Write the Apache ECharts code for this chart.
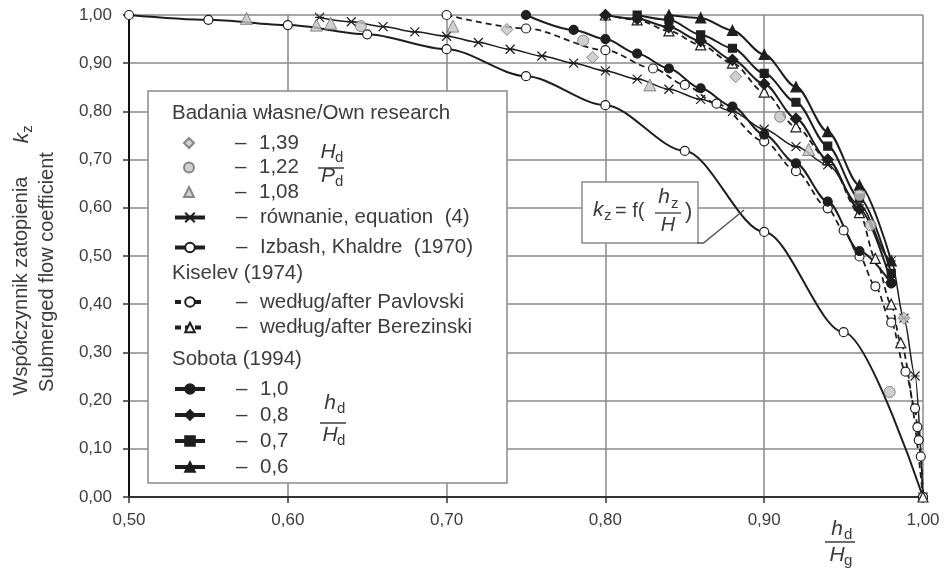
<!DOCTYPE html>
<html>
<head>
<meta charset="utf-8">
<script src="https://cdn.jsdelivr.net/npm/echarts@6/dist/echarts.min.js"></script>
<style>
  html, body { margin: 0; background: #fff; }
  #chart { width: 944px; height: 572px; }
</style>
</head>
<body>
<div id="chart"></div>
<script>
// ---- data (x = hd/Hg, y = kz) ----
const xIzbash = [0.50, 0.55, 0.60, 0.65, 0.70, 0.75, 0.80, 0.85, 0.90, 0.95, 1.00]
const kIzbash = [1.00, 0.99, 0.979, 0.96, 0.929, 0.873, 0.813, 0.718, 0.55, 0.342, 0.00]

const xEquation = [0.62, 0.64, 0.66, 0.68, 0.70, 0.72, 0.74, 0.76, 0.78, 0.80, 0.82, 0.84, 0.86, 0.88, 0.90, 0.92, 0.94, 0.96, 0.98, 0.988, 0.995, 1.00]
const kEquation = [0.995, 0.986, 0.976, 0.965, 0.956, 0.943, 0.929, 0.915, 0.90, 0.884, 0.867, 0.846, 0.825, 0.80, 0.763, 0.727, 0.689, 0.606, 0.49, 0.371, 0.251, 0.00]

const xPavlovski = [0.70, 0.75, 0.80, 0.83, 0.85, 0.87, 0.90, 0.92, 0.94, 0.95, 0.96, 0.97, 0.98, 0.989, 0.995, 0.9965, 0.9973, 0.9986, 1.00]
const kPavlovski = [1.00, 0.972, 0.927, 0.889, 0.855, 0.816, 0.738, 0.676, 0.599, 0.553, 0.499, 0.437, 0.362, 0.26, 0.184, 0.145, 0.118, 0.084, 0.00]

const xBerezinski = [0.80, 0.82, 0.84, 0.86, 0.88, 0.90, 0.92, 0.94, 0.96, 0.97, 0.98, 0.986, 1.00]
const kBerezinski = [1.00, 0.99, 0.967, 0.938, 0.90, 0.84, 0.768, 0.70, 0.59, 0.495, 0.40, 0.32, 0.00]

const xSobota10 = [0.75, 0.78, 0.80, 0.82, 0.84, 0.86, 0.88, 0.90, 0.92, 0.94, 0.96, 0.98]
const kSobota10 = [1.00, 0.969, 0.95, 0.92, 0.889, 0.848, 0.81, 0.752, 0.692, 0.613, 0.51, 0.443]
const xSobota08 = [0.80, 0.82, 0.84, 0.86, 0.88, 0.90, 0.92, 0.94, 0.96, 0.98]
const kSobota08 = [1.00, 0.992, 0.975, 0.946, 0.907, 0.857, 0.785, 0.70, 0.597, 0.445]
const xSobota07 = [0.82, 0.84, 0.86, 0.88, 0.90, 0.92, 0.94, 0.96, 0.98]
const kSobota07 = [1.00, 0.99, 0.959, 0.931, 0.879, 0.819, 0.728, 0.62, 0.464]
const xSobota06 = [0.84, 0.86, 0.88, 0.90, 0.92, 0.94, 0.96, 0.98]
const kSobota06 = [1.00, 0.994, 0.968, 0.918, 0.851, 0.758, 0.647, 0.49]

// own research, Hd/Pd
const xOwn139 = [0.738, 0.792, 0.882, 0.988]
const kOwn139 = [0.970, 0.912, 0.872, 0.371]
const xOwn122 = [0.646, 0.786, 0.91, 0.96, 0.967, 0.979]
const kOwn122 = [0.977, 0.947, 0.789, 0.626, 0.564, 0.218]
const xOwn108 = [0.574, 0.618, 0.627, 0.704, 0.828, 0.928]
const kOwn108 = [0.993, 0.979, 0.983, 0.977, 0.855, 0.721]

const xTicks = [0.5, 0.6, 0.7, 0.8, 0.9, 1.0]
const yTicks = [0, 0.1, 0.2, 0.3, 0.4, 0.5, 0.6, 0.7, 0.8, 0.9, 1.0]

const ink = '#1e1e1e'
const textColor = '#3c3c3c'
const fontFamily = '"Liberation Sans", Arial, sans-serif'
const legendFont = 20.5
const comma = v => v.toFixed(2).replace('.', ',')
const pairs = (xs, ys) => xs.map((x, i) => [x, ys[i]])

const asterisk = 'path://M0,0L10,10M10,0L0,10M0,5L10,5'

function curve(name, xs, ys, symbol, size, filled, dashed, width) {
  return {
    name,
    type: 'line',
    data: pairs(xs, ys),
    smooth: 0.3,
    smoothMonotone: 'x',
    symbol,
    symbolSize: size,
    showAllSymbol: true,
    lineStyle: { color: ink, width: width || 1.8, type: dashed ? [6, 4] : 'solid' },
    itemStyle: { color: filled ? ink : '#fff', borderColor: ink, borderWidth: 1.2 },
    z: 3
  }
}

function own(name, xs, ys, symbol, size) {
  return {
    name,
    type: 'scatter',
    data: pairs(xs, ys),
    symbol,
    symbolSize: size,
    itemStyle: { color: '#c4c4c4', borderColor: '#6e6e6e', borderWidth: 1 },
    z: 4
  }
}

const series = [
  own('1,39', xOwn139, kOwn139, 'diamond', 12),
  own('1,22', xOwn122, kOwn122, 'circle', 11),
  own('1,08', xOwn108, kOwn108, 'triangle', 12),
  curve('równanie, equation  (4)', xEquation, kEquation, asterisk, [9, 9], true, false, 1.5),
  curve('Izbash, Khaldre  (1970)', xIzbash, kIzbash, 'circle', 9, false, false, 2),
  curve('według/after Pavlovski', xPavlovski, kPavlovski, 'circle', 9, false, true, 1.8),
  curve('według/after Berezinski', xBerezinski, kBerezinski, 'triangle', 10, false, true, 1.8),
  curve('1,0', xSobota10, kSobota10, 'circle', 9, true, false, 2),
  curve('0,8', xSobota08, kSobota08, 'diamond', 11, true, false, 2),
  curve('0,7', xSobota07, kSobota07, 'rect', 8, true, false, 2),
  curve('0,6', xSobota06, kSobota06, 'triangle', 10, true, false, 2)
]

// legend rows (series name, row centre y, is it a bare symbol)
const legendRows = [
  ['1,39', 142.5, true], ['1,22', 167, true], ['1,08', 191.5, true],
  ['równanie, equation  (4)', 217], ['Izbash, Khaldre  (1970)', 247],
  ['według/after Pavlovski', 301.5], ['według/after Berezinski', 327],
  ['1,0', 388.5], ['0,8', 414.5], ['0,7', 440.5], ['0,6', 466.5]
]

const legends = legendRows.map(([name, y, bare]) => ({
  data: [name],
  left: bare ? 183 : 173,
  top: y - 10,
  padding: 0,
  itemWidth: bare ? 10 : 30,
  itemHeight: bare ? 10 : 12,
  selectedMode: false,
  z: 20,
  lineStyle: { width: 4 },
  formatter: n => (bare ? '{gb| }' : '{g| }') + '{d|–}{t|' + n + '}',
  textStyle: {
    color: textColor, fontFamily, fontSize: legendFont, lineHeight: 20,
    rich: {
      g: { width: 26, lineHeight: 20 },
      gb: { width: 36, lineHeight: 20 },
      d: { width: 24, fontSize: legendFont, lineHeight: 20 },
      t: { fontSize: legendFont, lineHeight: 20 }
    }
  }
}))

function txt(x, y, text, size, opts) {
  return Object.assign({
    type: 'text', x, y, z: 20,
    style: {
      text, fill: textColor,
      font: (opts && opts.italic ? 'italic ' : '') + size + 'px ' + fontFamily,
      align: (opts && opts.align) || 'left',
      verticalAlign: 'middle'
    }
  }, opts && opts.rotation ? { rotation: opts.rotation } : {})
}

// fraction: centre x, numerator middle y, rule y, denominator middle y
function frac(cx, numY, ruleY, denY, num, numSub, den, denSub, half) {
  return [
    txt(cx - 3, numY, num, 21, { italic: true, align: 'center' }),
    txt(cx + 4, numY + 6, numSub, 15, {}),
    { type: 'line', z: 20, shape: { x1: cx - half, y1: ruleY, x2: cx + half, y2: ruleY }, style: { stroke: textColor, lineWidth: 1.5 } },
    txt(cx - 3, denY, den, 21, { italic: true, align: 'center' }),
    txt(cx + 4, denY + 6, denSub, 15, {})
  ]
}

const graphics = [
  // legend frame
  { type: 'rect', z: 10, shape: { x: 148, y: 91, width: 359, height: 392 }, style: { fill: '#fff', stroke: '#8a8a8a', lineWidth: 1.5 } },
  txt(172, 113, 'Badania własne/Own research', legendFont),
  txt(172, 273, 'Kiselev (1974)', legendFont),
  txt(172, 359, 'Sobota (1994)', legendFont),
  ...frac(331, 152, 168, 176, 'H', 'd', 'P', 'd', 13),
  ...frac(333, 403, 423, 435, 'h', 'd', 'H', 'd', 13),
  // annotation box kz = f(hz/H)
  { type: 'rect', z: 10, shape: { x: 582, y: 182, width: 116, height: 61 }, style: { fill: '#fff', stroke: '#8a8a8a', lineWidth: 1.5 } },
  { type: 'polyline', z: 10, shape: { points: [[697, 243], [703.5, 243], [744, 210]] }, style: { stroke: '#555', lineWidth: 1.5, fill: null } },
  txt(593, 210, 'k', 21, { italic: true }),
  txt(604, 216, 'z', 15, {}),
  txt(615, 211, '= f(', 20, {}),
  txt(664, 197, 'h', 21, { italic: true, align: 'center' }),
  txt(671, 204, 'z', 15, {}),
  { type: 'line', z: 20, shape: { x1: 655, y1: 213, x2: 681, y2: 213 }, style: { stroke: textColor, lineWidth: 1.3 } },
  txt(668, 225, 'H', 20, { italic: true, align: 'center' }),
  txt(685, 212, ')', 22, {}),
  // x-axis name hd/Hg
  ...frac(840, 529, 542, 555, 'h', 'd', 'H', 'g', 15),
  // y-axis name (rotated)
  txt(21, 286, 'Współczynnik zatopienia', 20, { align: 'center', rotation: Math.PI / 2 }),
  txt(22, 138, 'k', 21, { italic: true, align: 'center', rotation: Math.PI / 2 }),
  txt(28, 129, 'z', 15, { align: 'center', rotation: Math.PI / 2 }),
  txt(47, 272, 'Submerged flow coefficient', 20, { align: 'center', rotation: Math.PI / 2 })
]

const chart = echarts.init(document.getElementById('chart'))
chart.setOption({
  animation: false,
  backgroundColor: '#fff',
  grid: { left: 129, right: 21, top: 15, bottom: 75 },
  xAxis: {
    type: 'value',
    min: xTicks[0], max: xTicks[xTicks.length - 1], interval: 0.1,
    axisLine: { lineStyle: { color: '#333', width: 2 } },
    axisTick: { show: true, length: 6, lineStyle: { color: '#333', width: 1.5 } },
    axisLabel: { formatter: comma, color: textColor, fontFamily, fontSize: 17, margin: 15 },
    splitLine: { show: true, lineStyle: { color: '#8a8a8a', width: 1.5 } }
  },
  yAxis: {
    type: 'value',
    min: yTicks[0], max: yTicks[yTicks.length - 1], interval: 0.1,
    axisLine: { show: true, lineStyle: { color: '#111', width: 2 } },
    axisTick: { show: true, length: 6, lineStyle: { color: '#333', width: 1.5 } },
    axisLabel: { formatter: comma, color: textColor, fontFamily, fontSize: 17, margin: 17 },
    splitLine: { show: true, lineStyle: { color: '#8a8a8a', width: 1.5 } }
  },
  legend: legends,
  graphic: graphics,
  series
})
</script>
</body>
</html>
